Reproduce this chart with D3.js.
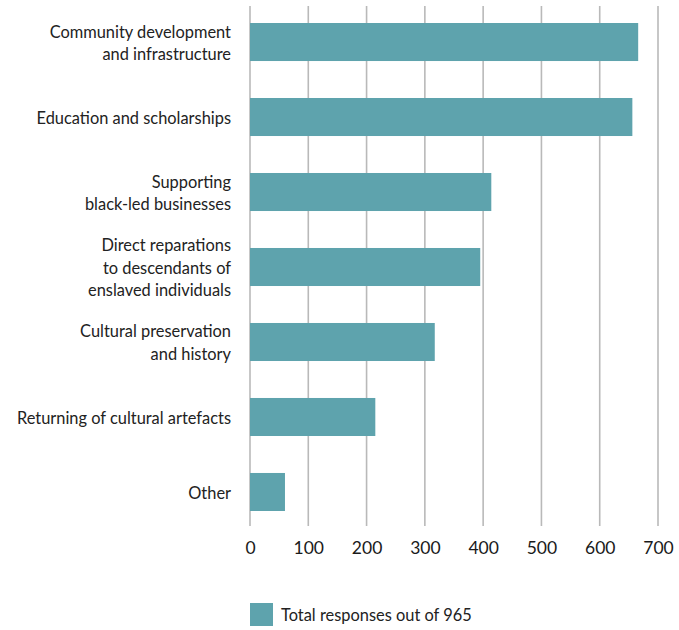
<!DOCTYPE html>
<html>
<head>
<meta charset="utf-8">
<script src="https://cdn.jsdelivr.net/npm/d3@7"></script>
<style>
  body { margin: 0; background: #fff; }
  text { font-family: Lato, "Open Sans", sans-serif; fill: #222; }
</style>
</head>
<body>
<div id="chart"></div>
<script>
// category labels (lines split for wrapping)
var categories = [
    ['Community development', 'and infrastructure'],
    ['Education and scholarships'],
    ['Supporting', 'black-led businesses'],
    ['Direct reparations', 'to descendants of', 'enslaved individuals'],
    ['Cultural preservation', 'and history'],
    ['Returning of cultural artefacts'],
    ['Other']
];
var responses = [666, 656, 414, 395, 317, 215, 60];
var xTicks = [0, 100, 200, 300, 400, 500, 600, 700];
var legendLabel = 'Total responses out of 965';

var width = 679;
var height = 630;
var padding = {top: 4.25, left: 250, right: 21, bottom: 100};

var svg = d3.select('#chart')
    .append('svg')
    .attr('width', width)
    .attr('height', height);

var xScale = d3.scaleLinear()
    .domain([0, 700])
    .range([padding.left, 658]);
var yScale = d3.scaleBand()
    .domain(d3.range(categories.length))
    .range([padding.top, 529.75])
    .paddingInner(0.493)
    .paddingOuter(0.25);

// grid lines
svg.append('g')
    .selectAll('line')
    .data(xTicks)
    .enter()
    .append('line')
    .attr('x1', function (d) { return xScale(d); })
    .attr('x2', function (d) { return xScale(d); })
    .attr('y1', 6)
    .attr('y2', 526)
    .attr('stroke', '#b9b9b9')
    .attr('stroke-width', 1.6);

// bars
svg.append('g')
    .selectAll('rect')
    .data(responses)
    .enter()
    .append('rect')
    .attr('x', xScale(0))
    .attr('y', function (d, i) { return yScale(i); })
    .attr('width', function (d) { return xScale(d) - xScale(0); })
    .attr('height', yScale.bandwidth())
    .attr('fill', '#5ea3ad');

// x axis labels
var xAxis = d3.axisBottom(xScale)
    .tickValues(xTicks)
    .tickSize(0)
    .tickPadding(0);
var gx = svg.append('g')
    .attr('transform', 'translate(0,542)')
    .call(xAxis);
gx.select('.domain').remove();
gx.selectAll('text')
    .attr('dy', '0.71em')
    .style('font-size', '17.5px')
    .style('fill', '#1a1a1a');

// category labels
var lineH = 22.5;
var labels = svg.append('g')
    .selectAll('text')
    .data(categories)
    .enter()
    .append('text')
    .attr('text-anchor', 'end')
    .style('font-size', '16.4px')
    .attr('transform', function (d, i) {
        var cy = yScale(i) + yScale.bandwidth() / 2 + 1;
        return 'translate(231,' + (cy - (d.length - 1) * lineH / 2) + ')';
    });
labels.selectAll('tspan')
    .data(function (d) { return d; })
    .enter()
    .append('tspan')
    .attr('x', 0)
    .attr('y', function (d, i) { return i * lineH; })
    .attr('dy', '0.35em')
    .text(function (d) { return d; });

// legend
var legend = svg.append('g').attr('transform', 'translate(250,603)');
legend.append('rect')
    .attr('width', 23)
    .attr('height', 23)
    .attr('fill', '#5ea3ad');
legend.append('text')
    .attr('x', 31)
    .attr('y', 12)
    .attr('dy', '0.35em')
    .style('font-size', '16.4px')
    .text(legendLabel);
</script>
</body>
</html>
